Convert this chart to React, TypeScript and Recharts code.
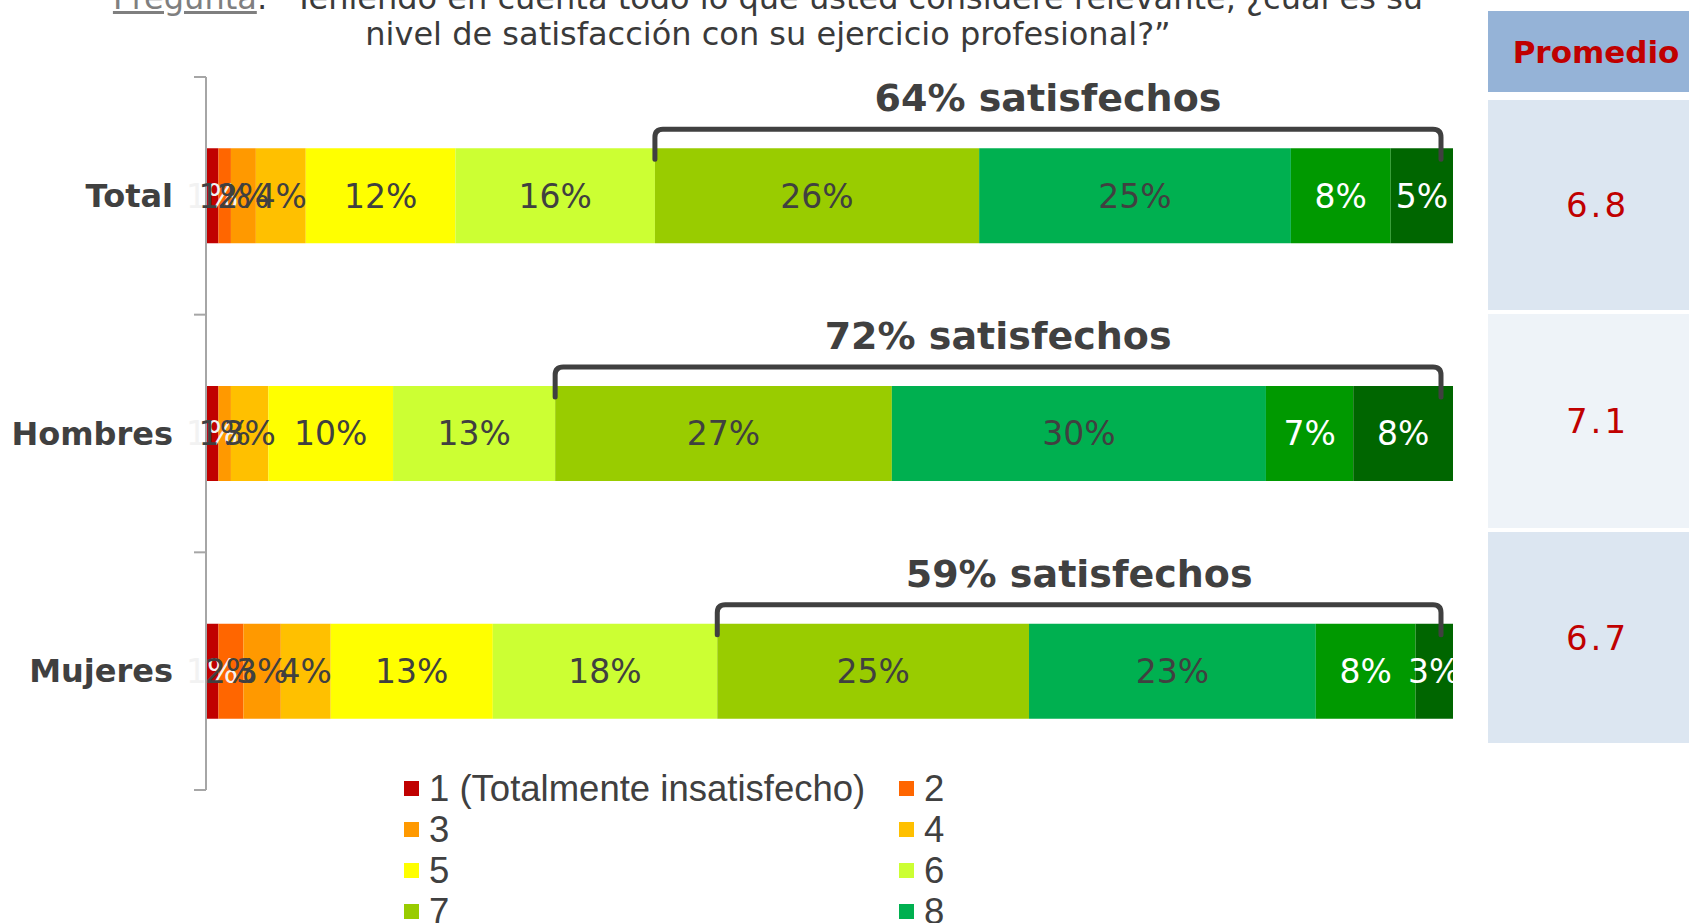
import { Bar, BarChart, LabelList, XAxis, YAxis } from "recharts";

const categories = ["Total", "Hombres", "Mujeres"];

const levelNames = [
  "1 (Totalmente insatisfecho)",
  "2",
  "3",
  "4",
  "5",
  "6",
  "7",
  "8",
  "9",
  "10 (Totalmente satisfecho)",
];

const levelColors = [
  "#C00000",
  "#FF6600",
  "#FF9900",
  "#FFC000",
  "#FFFF00",
  "#CCFF33",
  "#99CC00",
  "#00B050",
  "#009900",
  "#006600",
];

const labelColors = [
  "#F2F2F2",
  "#404040",
  "#404040",
  "#404040",
  "#404040",
  "#404040",
  "#404040",
  "#404040",
  "#FFFFFF",
  "#FFFFFF",
];

// % de respuestas por nivel, en el orden de categories
const level1 = [1, 1, 1];
const level2 = [1, 0, 2];
const level3 = [2, 1, 3];
const level4 = [4, 3, 4];
const level5 = [12, 10, 13];
const level6 = [16, 13, 18];
const level7 = [26, 27, 25];
const level8 = [25, 30, 23];
const level9 = [8, 7, 8];
const level10 = [5, 8, 3];

const satisfied = [64, 72, 59];
const averages = ["6.8", "7.1", "6.7"];

const levels = [
  level1,
  level2,
  level3,
  level4,
  level5,
  level6,
  level7,
  level8,
  level9,
  level10,
];

const data = categories.map((name, i) => {
  const row: Record<string, string | number> = { name };
  levels.forEach((values, k) => {
    row[`l${k + 1}`] = values[i];
  });
  return row;
});

const FONT = "'DejaVu Sans', Verdana, sans-serif";
const TEXT = "#404040";

const PLOT_TOP = 77;
const PLOT_BOTTOM = 790;
const TICK_SIZE = 12;
const TICK_MARGIN = 21;

function CategoryTick(props: any) {
  const { x, y, payload, index } = props;
  const half =
    payload?.offset || (PLOT_BOTTOM - PLOT_TOP) / categories.length / 2;
  const x1 = x + TICK_MARGIN;
  const x2 = x1 + TICK_SIZE;

  return (
    <g>
      <line x1={x1} x2={x2} y1={y - half} y2={y - half} stroke="#A6A6A6" strokeWidth={2} />
      {index === categories.length - 1 && (
        <line x1={x1} x2={x2} y1={y + half} y2={y + half} stroke="#A6A6A6" strokeWidth={2} />
      )}
      <text
        x={x}
        y={y}
        textAnchor="end"
        dominantBaseline="central"
        fill={TEXT}
        fontFamily={FONT}
        fontWeight="bold"
        fontSize={32}
      >
        {payload.value}
      </text>
    </g>
  );
}

// llave "xx% satisfechos" sobre los niveles 7 a 10, a partir del último tramo
function Bracket(props: any) {
  const box = props.viewBox ?? props;
  const idx = categories.indexOf(props.value);
  if (idx < 0 || !box.width) return null;

  const left = Math.min(box.x, box.x + box.width);
  const w = Math.abs(box.width);
  const barTop = Math.min(box.y, box.y + box.height);

  const pxPerUnit = w / level10[idx];
  const barEnd = left + w;
  const x1 = barEnd - pxPerUnit * satisfied[idx];
  const x2 = barEnd - 12;
  const top = barTop - 19;
  const legEnd = barTop + 11;
  const r = 8;

  const d = `M${x1},${legEnd} V${top + r} Q${x1},${top} ${x1 + r},${top} H${x2 - r} Q${x2},${top} ${x2},${top + r} V${legEnd}`;

  return (
    <g>
      <path d={d} fill="none" stroke={TEXT} strokeWidth={5} strokeLinecap="round" />
      <text
        x={(x1 + x2) / 2}
        y={barTop - 37}
        textAnchor="middle"
        fill={TEXT}
        fontFamily={FONT}
        fontWeight="bold"
        fontSize={38}
      >
        {`${satisfied[idx]}% satisfechos`}
      </text>
    </g>
  );
}

const rowBoxes = [
  { top: 100, height: 210, bg: "#DCE6F1" },
  { top: 314, height: 214, bg: "#EEF3F8" },
  { top: 532, height: 211, bg: "#DCE6F1" },
];

export default function App() {
  return (
    <div
      style={{
        position: "relative",
        width: 1689,
        height: 923,
        overflow: "hidden",
        background: "#FFFFFF",
      }}
    >
      <style>{`body { margin: 0; }`}</style>

      <div
        style={{
          position: "absolute",
          left: 0,
          width: 1536,
          top: -20,
          textAlign: "center",
          fontFamily: FONT,
          fontSize: 32,
          lineHeight: "36px",
          color: "#3A3A3A",
          whiteSpace: "nowrap",
        }}
      >
        <div>
          <span style={{ textDecoration: "underline", color: "#7F7F7F" }}>Pregunta</span>
          {": “Teniendo en cuenta todo lo que usted considere relevante, ¿cuál es su"}
        </div>
        <div>nivel de satisfacción con su ejercicio profesional?”</div>
      </div>

      <BarChart
        width={1689}
        height={923}
        data={data}
        layout="vertical"
        barCategoryGap="30%"
        margin={{ top: PLOT_TOP, right: 236, bottom: 923 - PLOT_BOTTOM, left: 16 }}
        style={{ position: "absolute", left: 0, top: 0 }}
      >
        <XAxis type="number" domain={[0, 100]} hide />
        <YAxis
          type="category"
          dataKey="name"
          width={190}
          tickSize={TICK_SIZE}
          tickMargin={TICK_MARGIN}
          tickLine={false}
          axisLine={{ stroke: "#A6A6A6", strokeWidth: 2 }}
          tick={<CategoryTick />}
        />
        {levels.map((_, k) => (
          <Bar
            key={k}
            dataKey={`l${k + 1}`}
            name={levelNames[k]}
            stackId="a"
            fill={levelColors[k]}
            isAnimationActive={false}
          >
            <LabelList
              dataKey={`l${k + 1}`}
              position="center"
              formatter={(v: any) => (v ? `${v}%` : "")}
              fill={labelColors[k]}
              fontFamily={FONT}
              fontSize={33}
            />
            {k === levels.length - 1 && (
              <LabelList dataKey="name" content={<Bracket />} />
            )}
          </Bar>
        ))}
      </BarChart>

      <div
        style={{
          position: "absolute",
          left: 1488,
          top: 11,
          width: 201,
          height: 81,
          background: "#95B3D7",
          color: "#C00000",
          fontFamily: FONT,
          fontWeight: "bold",
          fontSize: 31,
          display: "flex",
          alignItems: "center",
          justifyContent: "center",
          paddingLeft: 15,
          boxSizing: "border-box",
          whiteSpace: "nowrap",
        }}
      >
        Promedio
      </div>
      {rowBoxes.map((box, i) => (
        <div
          key={i}
          style={{
            position: "absolute",
            left: 1488,
            top: box.top,
            width: 201,
            height: box.height,
            background: box.bg,
            color: "#C00000",
            fontFamily: FONT,
            fontSize: 34,
            letterSpacing: 3,
            display: "flex",
            alignItems: "center",
            justifyContent: "center",
            paddingLeft: 18,
            boxSizing: "border-box",
          }}
        >
          {averages[i]}
        </div>
      ))}

      <div
        style={{
          position: "absolute",
          left: 404,
          top: 768,
          display: "grid",
          gridTemplateColumns: "495px 300px",
          gridAutoRows: "41px",
          fontFamily: "'Liberation Sans', Arial, sans-serif",
          fontSize: 36.5,
          color: TEXT,
        }}
      >
        {levelNames.map((name, k) => (
          <div key={k} style={{ display: "flex", alignItems: "center", whiteSpace: "nowrap" }}>
            <span
              style={{
                display: "inline-block",
                width: 15,
                height: 15,
                background: levelColors[k],
                marginRight: 10,
              }}
            />
            <span style={{ lineHeight: "41px" }}>{name}</span>
          </div>
        ))}
      </div>
    </div>
  );
}
